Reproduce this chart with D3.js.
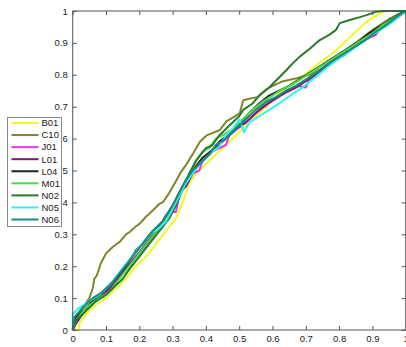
<!DOCTYPE html>
<html><head><meta charset="utf-8">
<script src="https://cdn.jsdelivr.net/npm/d3@7"></script>
<style>html,body{margin:0;padding:0;background:#fff;}svg{display:block;}</style>
</head><body>
<svg id="chart" width="406" height="347"></svg>
<script>
const seriesNames = ["B01","C10","J01","L01","L04","M01","N02","N05","N06"];
const seriesColors = ["#f4f42a","#84842a","#ee33ee","#7a1a7a","#222222","#44e044","#2a7a2a","#33f0f0","#1a8a80"];
const xTicks = [0,0.1,0.2,0.3,0.4,0.5,0.6,0.7,0.8,0.9,1];
const yTicks = [0,0.1,0.2,0.3,0.4,0.5,0.6,0.7,0.8,0.9,1];

const B01 = [[0,0],[0.02,0],[0.02,0.02],[0.04,0.05],[0.07,0.08],[0.1,0.1],[0.13,0.13],[0.16,0.16],[0.19,0.2],[0.22,0.23],[0.25,0.27],[0.28,0.31],[0.31,0.35],[0.33,0.4],[0.35,0.46],[0.37,0.49],[0.4,0.52],[0.43,0.55],[0.45,0.57],[0.47,0.59],[0.5,0.62],[0.53,0.65],[0.56,0.68],[0.59,0.71],[0.62,0.74],[0.66,0.775],[0.69,0.795],[0.72,0.82],[0.75,0.845],[0.78,0.867],[0.81,0.895],[0.83,0.915],[0.86,0.945],[0.89,0.972],[0.92,0.99],[0.94,1],[1,1]];
const C10 = [[0,0],[0.01,0.04],[0.03,0.07],[0.05,0.1],[0.06,0.13],[0.065,0.16],[0.072,0.17],[0.085,0.21],[0.1,0.24],[0.12,0.26],[0.142,0.277],[0.16,0.3],[0.172,0.308],[0.19,0.325],[0.202,0.334],[0.22,0.355],[0.242,0.376],[0.26,0.395],[0.272,0.402],[0.29,0.43],[0.312,0.47],[0.322,0.49],[0.342,0.52],[0.362,0.554],[0.382,0.59],[0.402,0.61],[0.442,0.627],[0.462,0.655],[0.48,0.665],[0.502,0.68],[0.512,0.72],[0.53,0.725],[0.555,0.73],[0.582,0.755],[0.61,0.77],[0.632,0.78],[0.672,0.789],[0.712,0.8],[0.75,0.82],[0.8,0.86],[0.85,0.9],[0.9,0.94],[0.95,0.975],[1,1]];
const J01 = [[0,0],[0.01,0.03],[0.03,0.06],[0.06,0.09],[0.09,0.11],[0.12,0.14],[0.15,0.18],[0.18,0.22],[0.21,0.25],[0.24,0.29],[0.27,0.34],[0.28,0.36],[0.3,0.37],[0.31,0.37],[0.32,0.42],[0.34,0.46],[0.36,0.49],[0.38,0.5],[0.39,0.53],[0.42,0.56],[0.44,0.57],[0.46,0.58],[0.47,0.61],[0.5,0.635],[0.53,0.66],[0.56,0.69],[0.59,0.715],[0.62,0.735],[0.65,0.75],[0.68,0.765],[0.7,0.76],[0.71,0.785],[0.74,0.81],[0.77,0.83],[0.8,0.855],[0.83,0.875],[0.86,0.9],[0.89,0.915],[0.91,0.925],[0.922,0.945]];
const L01 = [[0,0],[0.01,0.02],[0.03,0.05],[0.06,0.09],[0.1,0.12],[0.13,0.15],[0.16,0.19],[0.19,0.23],[0.22,0.27],[0.25,0.31],[0.28,0.34],[0.3,0.38],[0.32,0.43],[0.34,0.45],[0.36,0.49],[0.38,0.52],[0.41,0.55],[0.44,0.58],[0.46,0.6],[0.49,0.63],[0.52,0.65],[0.55,0.68],[0.58,0.705],[0.61,0.725],[0.64,0.745],[0.67,0.76],[0.7,0.78],[0.73,0.8],[0.76,0.825],[0.79,0.845],[0.82,0.865],[0.85,0.89],[0.88,0.91],[0.91,0.93],[0.94,0.955],[0.97,0.975],[1,1]];
const L04 = [[0,0],[0.01,0.04],[0.04,0.07],[0.07,0.1],[0.1,0.13],[0.13,0.16],[0.16,0.2],[0.19,0.25],[0.21,0.27],[0.24,0.31],[0.27,0.34],[0.3,0.39],[0.32,0.43],[0.34,0.47],[0.36,0.5],[0.39,0.54],[0.42,0.565],[0.44,0.59],[0.47,0.615],[0.5,0.645],[0.53,0.68],[0.56,0.71],[0.59,0.735],[0.62,0.75],[0.65,0.765],[0.68,0.785],[0.71,0.805],[0.74,0.825],[0.77,0.845],[0.8,0.865],[0.83,0.885],[0.86,0.905],[0.89,0.93],[0.92,0.95],[0.95,0.97],[0.98,0.99],[1,1]];
const M01 = [[0,0],[0.01,0.03],[0.04,0.07],[0.08,0.1],[0.11,0.12],[0.14,0.16],[0.17,0.2],[0.2,0.24],[0.23,0.28],[0.26,0.32],[0.29,0.36],[0.31,0.4],[0.33,0.45],[0.35,0.49],[0.37,0.53],[0.39,0.56],[0.41,0.57],[0.43,0.6],[0.45,0.61],[0.48,0.63],[0.51,0.66],[0.54,0.69],[0.57,0.715],[0.6,0.735],[0.63,0.755],[0.66,0.77],[0.69,0.79],[0.72,0.81],[0.75,0.83],[0.78,0.85],[0.81,0.87],[0.84,0.89],[0.87,0.91],[0.9,0.93],[0.93,0.955],[0.96,0.975],[1,1]];
const N02 = [[0,0],[0.01,0.03],[0.04,0.06],[0.07,0.09],[0.1,0.11],[0.13,0.14],[0.15,0.16],[0.17,0.19],[0.2,0.23],[0.23,0.27],[0.26,0.31],[0.29,0.35],[0.31,0.39],[0.33,0.44],[0.35,0.49],[0.37,0.53],[0.4,0.57],[0.42,0.58],[0.44,0.61],[0.47,0.64],[0.5,0.67],[0.512,0.69],[0.54,0.71],[0.562,0.737],[0.59,0.76],[0.622,0.794],[0.642,0.815],[0.66,0.835],[0.682,0.857],[0.71,0.88],[0.742,0.909],[0.77,0.925],[0.79,0.94],[0.802,0.962],[0.832,0.972],[0.86,0.98],[0.882,0.987],[0.912,0.998],[0.93,1],[1,1]];
const N05 = [[0,0],[0,0.05],[0.02,0.07],[0.05,0.09],[0.08,0.11],[0.11,0.14],[0.14,0.18],[0.17,0.22],[0.2,0.26],[0.23,0.3],[0.26,0.32],[0.28,0.34],[0.3,0.38],[0.32,0.42],[0.34,0.46],[0.36,0.49],[0.38,0.52],[0.4,0.54],[0.42,0.56],[0.44,0.575],[0.46,0.61],[0.48,0.63],[0.5,0.66],[0.515,0.62],[0.53,0.65],[0.56,0.67],[0.59,0.69],[0.62,0.71],[0.66,0.74],[0.69,0.76],[0.72,0.785],[0.76,0.82],[0.79,0.845],[0.82,0.865],[0.86,0.895],[0.9,0.925],[0.93,0.945],[0.96,0.965],[1,1]];
const N06 = [[0,0],[0.005,0.04],[0.03,0.07],[0.06,0.1],[0.09,0.12],[0.12,0.15],[0.15,0.19],[0.18,0.23],[0.21,0.27],[0.24,0.31],[0.27,0.34],[0.3,0.39],[0.32,0.43],[0.34,0.47],[0.36,0.5],[0.38,0.52],[0.41,0.55],[0.43,0.58],[0.46,0.6],[0.49,0.63],[0.52,0.66],[0.55,0.69],[0.58,0.715],[0.61,0.73],[0.64,0.75],[0.67,0.765],[0.7,0.785],[0.73,0.805],[0.76,0.83],[0.79,0.85],[0.82,0.87],[0.85,0.89],[0.88,0.91],[0.91,0.935],[0.94,0.955],[0.97,0.98],[1,1]];

const seriesData = [B01,C10,J01,L01,L04,M01,N02,N05,N06];

const svg = d3.select("#chart");
const pLeft = 72.7, pRight = 405.7, pTop = 11, pBottom = 330;
const x = d3.scaleLinear().domain([0,1]).range([pLeft,pRight]);
const y = d3.scaleLinear().domain([0,1]).range([pBottom,pTop]);
const fmt = d => d3.format("")(+(+d).toFixed(1));
const font = "Liberation Sans, Arial, sans-serif";

svg.append("rect").attr("x",pLeft).attr("y",pTop).attr("width",pRight-pLeft).attr("height",pBottom-pTop)
  .attr("fill","#fff");

const line = d3.line().x(d=>x(d[0])).y(d=>y(d[1]));
const lines = svg.append("g");
seriesData.forEach((s,i)=>{
  lines.append("path").datum(s).attr("d",line).attr("fill","none")
    .attr("stroke",seriesColors[i]).attr("stroke-width",2).attr("stroke-linejoin","round");
});

function styleAxis(g){
  g.selectAll("path").remove();
  g.selectAll("line").attr("stroke","#555");
  g.selectAll("text").attr("fill","#222").style("font-family",font).style("font-size","9.5px");
}
svg.append("g").attr("transform",`translate(0,${pBottom})`)
  .call(d3.axisBottom(x).tickValues(xTicks).tickFormat(fmt).tickSize(-4).tickPadding(5)).call(styleAxis);
svg.append("g").attr("transform",`translate(0,${pTop})`)
  .call(d3.axisTop(x).tickValues(xTicks).tickFormat("").tickSize(-4)).call(styleAxis);
svg.append("g").attr("transform",`translate(${pLeft},0)`)
  .call(d3.axisLeft(y).tickValues(yTicks).tickFormat(fmt).tickSize(-4).tickPadding(5)).call(styleAxis);
svg.append("g").attr("transform",`translate(${pRight},0)`)
  .call(d3.axisRight(y).tickValues(yTicks).tickFormat("").tickSize(-4)).call(styleAxis);

svg.append("rect").attr("x",pLeft).attr("y",pTop).attr("width",pRight-pLeft).attr("height",pBottom-pTop)
  .attr("fill","none").attr("stroke","#555").attr("stroke-width",1);

// legend
const lg = svg.append("g");
lg.append("rect").attr("x",7.5).attr("y",117.5).attr("width",54).attr("height",109)
  .attr("fill","#fff").attr("stroke","#888").attr("stroke-width",1);
const ly = d3.scalePoint().domain(seriesNames).range([123,219.5]);
seriesNames.forEach((n,i)=>{
  lg.append("line").attr("x1",11.5).attr("x2",38.5).attr("y1",ly(n)).attr("y2",ly(n))
    .attr("stroke",seriesColors[i]).attr("stroke-width",2);
  lg.append("text").attr("x",41.5).attr("y",ly(n)).attr("dy","0.35em").text(n)
    .attr("fill","#222").style("font-family",font).style("font-size","9.5px");
});
</script>
</body></html>
